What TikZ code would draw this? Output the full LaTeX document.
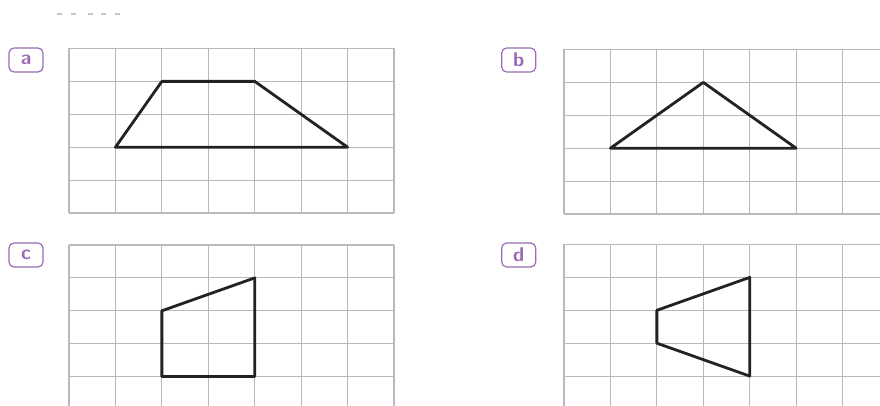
\documentclass[tikz,border=0pt]{standalone}
\usepackage{tikz}
\definecolor{gridc}{HTML}{B8B9BF}
\definecolor{ink}{HTML}{222222}
\definecolor{tag}{HTML}{9A6BB4}
\definecolor{faint}{HTML}{C2C6D2}
\tikzset{
  gridline/.style={draw=gridc, line width=1.1pt},
  figline/.style={draw=ink, line width=2.8pt, line join=round},
  tagbox/.style={draw=tag, line width=1.2pt, rounded corners=5pt, minimum width=34pt,
    minimum height=24pt, inner sep=0pt, text=tag, font=\sffamily\bfseries\fontsize{20}{20}\selectfont},
  cell/.style={x=46.43pt, y=32.9pt}
}

\begin{document}
\begin{tikzpicture}[x=1pt,y=1pt]
  \useasboundingbox (0,0) rectangle (880,406);
  \clip (0,0) rectangle (880,406);

  % cut-off marks along the top edge
  \foreach \x in {57,71,88,101,115}
    \draw[faint, line width=2pt] (\x,392) -- ++(5,0);

  % a: trapezium
  \node[tagbox] (taga) at (26,346) {a};
  \begin{scope}[shift={(69,193)}, cell]
    \draw[gridline, step=1] (0,0) grid (7,5);
    \coordinate (A1) at (1,2);
    \coordinate (A2) at (6,2);
    \coordinate (A3) at (4,4);
    \coordinate (A4) at (2,4);
    \draw[figline] (A1)--(A2)--(A3)--(A4)--cycle;
  \end{scope}

  % b: triangle
  \node[tagbox] (tagb) at (518.7,346) {b};
  \begin{scope}[shift={(564,192)}, cell]
    \draw[gridline, step=1] (0,0) grid (7,5);
    \coordinate (B1) at (1,2);
    \coordinate (B2) at (5,2);
    \coordinate (B3) at (3,4);
    \draw[figline] (B1)--(B2)--(B3)--cycle;
  \end{scope}

  % c: right trapezium
  \node[tagbox] (tagc) at (26,151) {c};
  \begin{scope}[shift={(69,-3.5)}, cell]
    \draw[gridline, step=1] (0,0) grid (7,5);
    \coordinate (C1) at (2,1);
    \coordinate (C2) at (2,3);
    \coordinate (C3) at (4,4);
    \coordinate (C4) at (4,1);
    \draw[figline] (C1)--(C2)--(C3)--(C4)--cycle;
  \end{scope}

  % d: trapezium on its side
  \node[tagbox] (tagd) at (518.7,151) {d};
  \begin{scope}[shift={(564,-3)}, cell]
    \draw[gridline, step=1] (0,0) grid (7,5);
    \coordinate (D1) at (2,2);
    \coordinate (D2) at (2,3);
    \coordinate (D3) at (4,4);
    \coordinate (D4) at (4,1);
    \draw[figline] (D1)--(D2)--(D3)--(D4)--cycle;
  \end{scope}
\end{tikzpicture}
\end{document}
